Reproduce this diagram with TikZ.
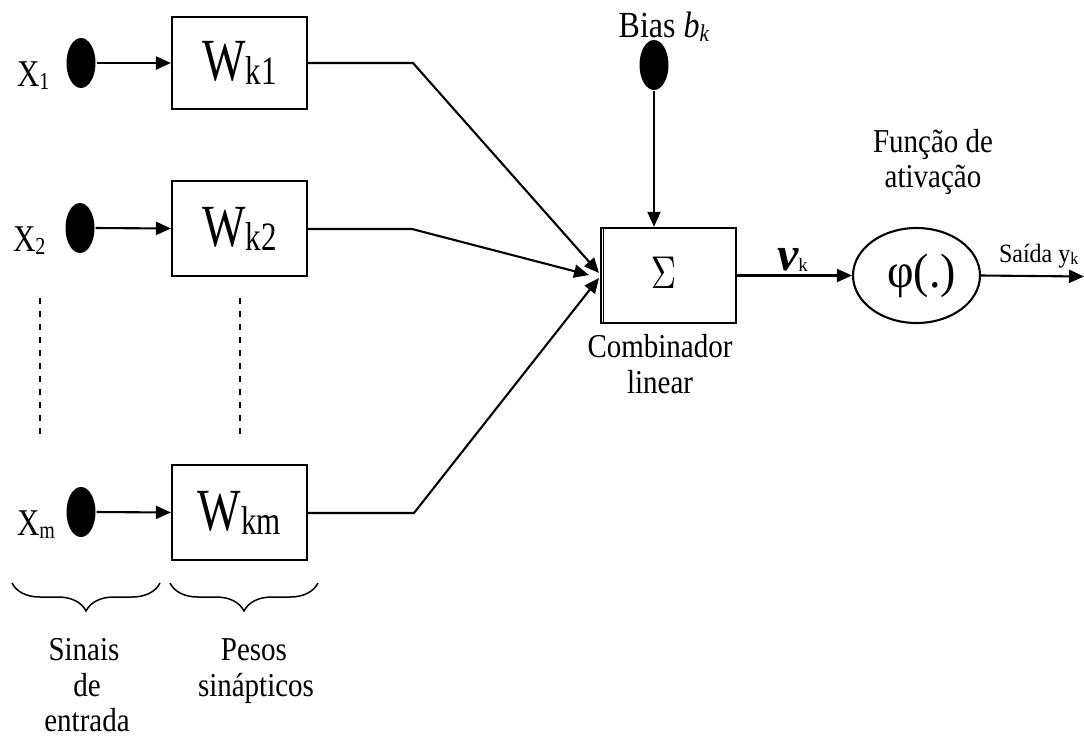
\documentclass[tikz,border=0pt]{standalone}
\usepackage{fontspec}
\setmainfont{Liberation Serif}
\usetikzlibrary{arrows.meta,shapes.geometric,decorations.pathreplacing}

% slightly tall lettering
\newcommand\vtall[2][1.15]{\scalebox{1}[#1]{#2}}
% weight and input labels
\newcommand\wlab[1]{\vtall[1.3]{\fontsize{46}{46}\selectfont W\raisebox{-3pt}{\fontsize{31}{31}\selectfont #1}}}
\newcommand\xlab[1]{\vtall[1.22]{\fontsize{31}{31}\selectfont X\raisebox{-3pt}{\fontsize{20}{20}\selectfont #1}}}

\begin{document}
\begin{tikzpicture}[x=1pt,y=-1pt,line width=2.1pt,
  >={Triangle[length=15pt,width=13pt]},
  dot/.style={ellipse,fill=black,draw=none,minimum width=29pt,minimum height=50pt,inner sep=0pt},
  wbox/.style={draw,rectangle,minimum width=135pt,minimum height=95pt,inner sep=0pt},
  txt/.style={inner sep=0pt,anchor=base},
  lbl/.style={txt,font=\fontsize{29}{34}\selectfont},
  dots/.style={dash pattern=on 6pt off 7pt,line width=1.8pt},
  brc/.style={decorate,decoration={brace,mirror,amplitude=28pt},line width=1.5pt}]
\useasboundingbox (0,0) rectangle (1084,740);

% input signals
\node[dot] (d1) at (81,63) {};
\node[dot] (d2) at (80,228) {};
\node[dot] (dm) at (81,512) {};
\node[txt,anchor=base west] (x1) at (16,86) {\xlab{1}};
\node[txt,anchor=base west] (x2) at (12,251) {\xlab{2}};
\node[txt,anchor=base west] (xm) at (16,535) {\xlab{m}};

% synaptic weights
\node[wbox,minimum height=92pt] (w1) at (239.5,63) {\wlab{k1}};
\node[wbox] (w2) at (239.5,228.5) {\wlab{k2}};
\node[wbox] (wm) at (239.5,512.5) {\wlab{km}};

\draw[->] (d1.east) -- (w1.west);
\draw[->] (d2.east) -- (w2.west);
\draw[->] (dm.east) -- (wm.west);

% omitted rows
\coordinate (ga) at (40,298);  \coordinate (gb) at (40,437);
\coordinate (ha) at (240,298); \coordinate (hb) at (240,437);
\draw[dots] (ga) -- (gb);
\draw[dots] (ha) -- (hb);

% summing junction
\node[draw,line width=2.4pt,minimum width=135pt,minimum height=95pt,inner sep=0pt] (sg) at (668.5,275.5)
  {\raisebox{5pt}{\hspace*{-10pt}\scalebox{3.5}[4.6]{$\Sigma$}}};
\draw[line width=1.2pt] ([xshift=4pt]sg.north west) -- ([xshift=4pt]sg.south west);
\node[lbl] (cb1) at (660,357) {\vtall{Combinador}};
\node[lbl] (cb2) at (660,393) {\vtall{linear}};

% weights to the summing junction
\coordinate (k1) at (413,63);
\coordinate (k2) at (412,229);
\coordinate (km) at (414,513);
\coordinate (t1) at (599,273);
\coordinate (t2) at (589,275);
\coordinate (tm) at (599,278);
\draw[->] (w1.east |- k1) -- (k1) -- (t1);
\draw[->] (w2.east |- k2) -- (k2) -- (t2);
\draw[->] (wm.east |- km) -- (km) -- (tm);

% bias
\node[dot,minimum height=50pt] (bd) at (654,65) {};
\node[txt] (bias) at (664,37) {\vtall{\fontsize{32}{32}\selectfont Bias \textit{b}\raisebox{-4pt}{\fontsize{21}{21}\selectfont\textit{k}}}};
\draw[->] (bd.south) -- (bd.south |- sg.north);

% activation function
\node[draw,ellipse,minimum width=127pt,minimum height=95pt,inner sep=0pt] (phi) at (916.5,275.5)
  {\hspace*{10pt}\vtall[1.05]{\fontsize{46}{46}\selectfont φ(.)}};
\node[lbl] (fa1) at (933,152) {\vtall{Função de}};
\node[lbl] (fa2) at (933,187) {\vtall{ativação}};

\draw[->] (sg.east) -- (phi.west);
\node[txt,anchor=base west] (vk) at (776,270)
  {{\fontsize{48}{48}\selectfont\bfseries\itshape v}\raisebox{-1pt}{\fontsize{19}{19}\selectfont k}};

% output
\coordinate (out) at (1084,276.5);
\draw[->] (phi.east) -- (out);
\node[txt,anchor=base west] (yk) at (998,262)
  {\vtall[1.1]{\fontsize{24}{24}\selectfont Saída y\raisebox{-2pt}{\fontsize{16}{16}\selectfont k}}};

% group braces and captions
\coordinate (ba) at (12,583);  \coordinate (bb) at (160,583);
\coordinate (bc) at (170,583); \coordinate (bd2) at (318,583);
\draw[brc] (ba) -- (bb);
\draw[brc] (bc) -- (bd2);
\node[lbl] (s1) at (84,660) {\vtall{Sinais}};
\node[lbl] (s2) at (87,696) {\vtall{de}};
\node[lbl] (s3) at (87,731) {\vtall{entrada}};
\node[lbl] (p1) at (254,660) {\vtall{Pesos}};
\node[lbl] (p2) at (256,696) {\vtall{sinápticos}};
\end{tikzpicture}
\end{document}
